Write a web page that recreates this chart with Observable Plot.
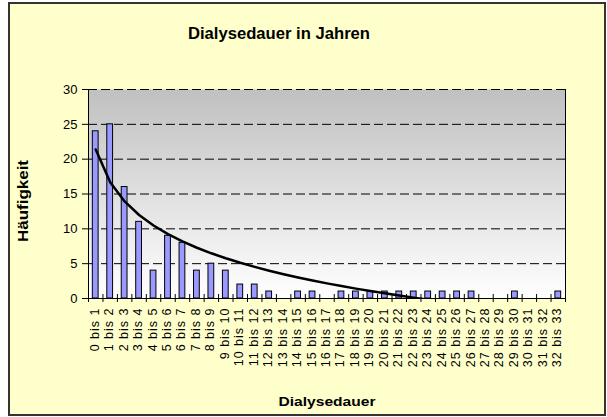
<!DOCTYPE html>
<html><head><meta charset="utf-8">
<script src="https://cdn.jsdelivr.net/npm/d3@7"></script>
<script src="https://cdn.jsdelivr.net/npm/@observablehq/plot@0.6"></script>
<style>
body{margin:0;background:#fff;}
#wrap{position:relative;width:607px;height:417px;overflow:hidden;}
#box{position:absolute;left:8px;top:2px;width:594px;height:410px;background:#FFFFCC;border:2px solid #333;}
#chart{position:absolute;left:0;top:0;}
</style></head><body>
<div id="wrap"><div id="box"></div><div id="chart"></div></div>
<script>
const categories = ["0 bis 1","1 bis 2","2 bis 3","3 bis 4","4 bis 5","5 bis 6","6 bis 7","7 bis 8","8 bis 9","9 bis 10",
  "10 bis 11","11 bis 12","12 bis 13","13 bis 14","14 bis 15","15 bis 16","16 bis 17","17 bis 18","18 bis 19","19 bis 20",
  "20 bis 21","21 bis 22","22 bis 23","23 bis 24","24 bis 25","25 bis 26","26 bis 27","27 bis 28","28 bis 29","29 bis 30",
  "30 bis 31","31 bis 32","32 bis 33"];
const counts = [24,25,16,11,4,9,8,4,5,4,
  2,2,1,0,1,1,0,1,1,1,
  1,1,1,1,1,1,1,0,0,1,
  0,0,1];
const yTicks = [0,5,10,15,20,25,30];
const title = "Dialysedauer in Jahren";
const yLabel = "Häufigkeit";
const xLabel = "Dialysedauer";

const data = categories.map((c, i) => ({cat: c, i, count: counts[i]}));
// logarithmic trendline (least squares on ln(x)), as in the spreadsheet
const lx = data.map(d => Math.log(d.i + 1));
const mx = d3.mean(lx), my = d3.mean(counts);
const slope = d3.sum(lx.map((v, k) => (v - mx) * (counts[k] - my))) / d3.sum(lx.map(v => (v - mx) ** 2));
const intercept = my - slope * mx;
const trend = data.map(d => ({x: d.i + 0.5, y: intercept + slope * Math.log(d.i + 1)}));
const bounds = d3.range(categories.length + 1);

const svg = Plot.plot({
  width: 607, height: 417,
  marginLeft: 88, marginRight: 42, marginTop: 89, marginBottom: 119,
  style: {background: "transparent", fontFamily: "'Liberation Sans', Arial, sans-serif", color: "#000"},
  x: {domain: [0, categories.length], axis: null},
  y: {domain: [0, 30], axis: null},
  marks: [
    Plot.frame({fill: "url(#plotbg)", stroke: null}),
    Plot.ruleY(yTicks.filter(v => v > 0), {stroke: "#000", strokeDasharray: "9,4", strokeWidth: 1}),
    Plot.rectY(data, {x1: d => d.i + 0.3, x2: d => d.i + 0.7, y: "count", fill: "#9999FF", stroke: "#000", strokeWidth: 1}),
    Plot.line(trend, {x: "x", y: "y", stroke: "#000", strokeWidth: 2.5, clip: true}),
    Plot.ruleX([categories.length], {stroke: "#000"}),
    Plot.ruleX([0], {stroke: "#000"}),
    Plot.ruleY([0], {stroke: "#000"}),
    Plot.ruleX(bounds, {x: d => d, y1: -0.57, y2: 0.57, stroke: "#000"}),
    Plot.axisY({ticks: yTicks, tickSize: 6, tickPadding: 5, fontSize: 13, tickFormat: d => d, label: null}),
    Plot.text(data, {x: d => d.i + 0.5, text: "cat", frameAnchor: "bottom", rotate: -90, textAnchor: "end",
      lineAnchor: "middle", dy: 9, dx: -1, fontSize: 12.5})
  ]
});

const s = d3.select(svg);
const grad = s.insert("defs", ":first-child").append("linearGradient")
  .attr("id", "plotbg").attr("x1", 0).attr("y1", 0).attr("x2", 0).attr("y2", 1);
grad.append("stop").attr("offset", "0%").attr("stop-color", "#C0C0C0");
grad.append("stop").attr("offset", "100%").attr("stop-color", "#FFFFFF");

s.selectAll('g[aria-label="text"] text').style("letter-spacing", "1px");
s.selectAll('g[aria-label="y-axis tick-label"] text').style("letter-spacing", "1px");

s.append("text").attr("x", 279).attr("y", 39).attr("text-anchor", "middle")
  .attr("font-size", 17).attr("font-weight", "bold").attr("fill", "#000")
  .attr("textLength", 182).attr("lengthAdjust", "spacingAndGlyphs").text(title);
s.append("text").attr("transform", "translate(28,201) rotate(-90)").attr("text-anchor", "middle")
  .attr("font-size", 14).attr("font-weight", "bold").attr("fill", "#000")
  .attr("textLength", 82).attr("lengthAdjust", "spacingAndGlyphs").text(yLabel);
s.append("text").attr("x", 327).attr("y", 406).attr("text-anchor", "middle")
  .attr("font-size", 13).attr("font-weight", "bold").attr("fill", "#000")
  .attr("textLength", 97).attr("lengthAdjust", "spacingAndGlyphs").text(xLabel);

document.getElementById("chart").appendChild(svg);
</script>
</body></html>
